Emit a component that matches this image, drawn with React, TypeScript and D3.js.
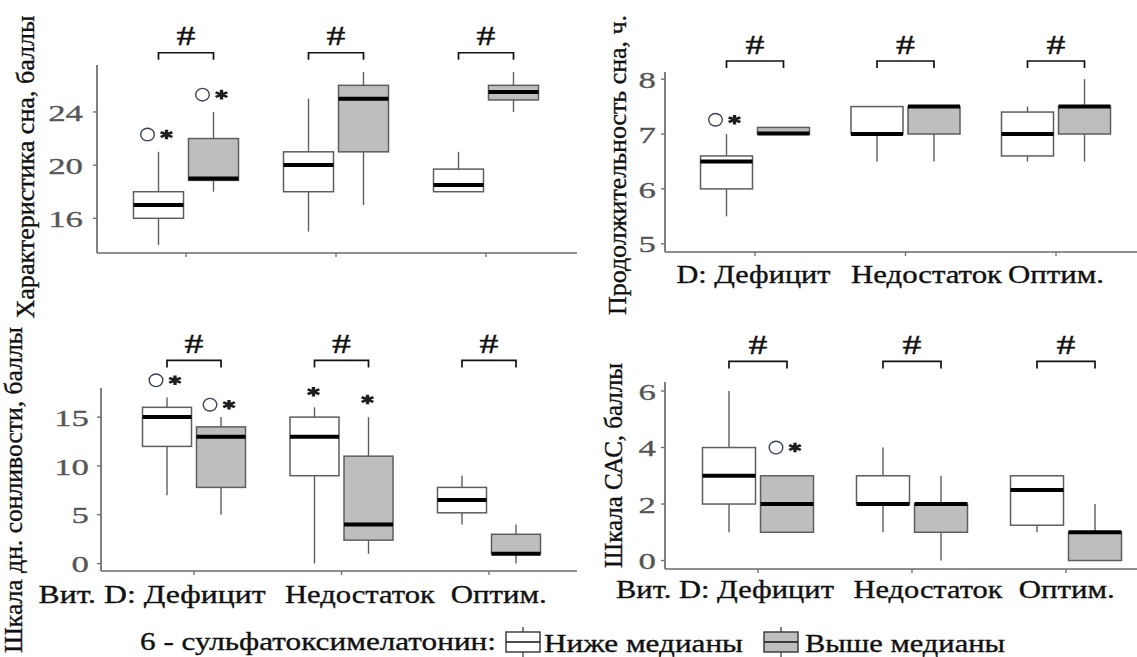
import React from "react";
import * as d3 from "d3";

// ---------- DATA ----------
const categoryKeys = ["Дефицит", "Недостаток", "Оптим."];
const legendTitle = "6 - сульфатоксимелатонин:";
const groupLabels = ["Ниже медианы", "Выше медианы"];

// box stats: [whisker low, Q1, median, Q3, whisker high]
const sleepQualityLow = [[14, 16, 17, 18, 21], [15, 18, 20, 21, 25], [18, 18, 18.5, 19.7, 21]];
const sleepQualityHigh = [[18, 18.85, 19, 22, 24], [17, 21, 25, 26, 27], [24, 24.9, 25.5, 26, 27]];
const sleepDurationLow = [[5.5, 6, 6.5, 6.6, 7], [6.5, 7, 7, 7.5, 7.5], [6.5, 6.6, 7, 7.4, 7.5]];
const sleepDurationHigh = [[7, 7, 7.01, 7.12, 7.12], [6.5, 7, 7.5, 7.5, 7.5], [6.5, 7, 7.5, 7.5, 8]];
const drowsinessLow = [[7, 12, 15, 16, 17], [0, 9, 13, 15, 16], [4, 5.2, 6.5, 7.8, 9]];
const drowsinessHigh = [[5, 7.8, 13, 14, 15], [1, 2.4, 4, 11, 15], [0, 1, 1, 3, 4]];
const sasLow = [[1, 2, 3, 4, 6], [1, 2, 2, 3, 4], [1, 1.25, 2.5, 3, 3]];
const sasHigh = [[1, 1, 2, 3, 3], [0, 1, 2, 2, 3], [0, 0, 1, 1, 2]];

// annotations: [category index, group index, marker, value]
const sleepQualityMarks = [[0, 0, "○*", 22.3], [0, 1, "○*", 25.3]];
const sleepDurationMarks = [[0, 0, "○*", 7.26]];
const drowsinessMarks = [[0, 0, "○*", 18.77], [0, 1, "○*", 16.27], [1, 0, "*", 17.6], [1, 1, "*", 16.8]];
const sasMarks = [[0, 1, "○*", 4.0]];

const sleepQualityTicks = [16, 20, 24];
const sleepDurationTicks = [5, 6, 7, 8];
const drowsinessTicks = [0, 5, 10, 15];
const sasTicks = [0, 2, 4, 6];

const topRightLabels = ["D: Дефицит", "Недостаток", "Оптим."];
const bottomLabels = ["Вит. D: Дефицит", "Недостаток", "Оптим."];

const sigMark = "#";

// ---------- STYLE / LAYOUT ----------
const FONT = "'Liberation Serif', 'Times New Roman', Times, serif";
const GRAY_FILL = "#bebebe";
const LINE = "#6a6a6a";
const BOX_LINE = "#5e5e5e";
const INK = "#111";

type Cfg = {
  title: string;
  low: number[][];
  high: number[][];
  marks: any[];
  ticks: number[];
  domain: [number, number];
  labels: string[] | null;
  bracketY: number;
  left: number; right: number; top: number; bottom: number;
  x0: number; step: number; boxW: number;
  labelDx: number[]; labelW: number[]; labelBase: number;
  tickGap: number;
  titleX: number; titleCY: number; titleLen: number;
};

const panels: Cfg[] = [
  {
    title: "Характеристика сна, баллы",
    low: sleepQualityLow, high: sleepQualityHigh, marks: sleepQualityMarks,
    ticks: sleepQualityTicks, domain: [13.39, 27.53], labels: null, bracketY: 28.45,
    left: 97, right: 577, top: 65, bottom: 253,
    x0: 186, step: 150, boxW: 50,
    labelDx: [0, 0, 0], labelW: [0, 0, 0], labelBase: 0,
    tickGap: 14, titleX: 34, titleCY: 167, titleLen: 303,
  },
  {
    title: "Продолжительность сна, ч.",
    low: sleepDurationLow, high: sleepDurationHigh, marks: sleepDurationMarks,
    ticks: sleepDurationTicks, domain: [4.85, 8.13], labels: topRightLabels, bracketY: 8.33,
    left: 665, right: 1137, top: 72, bottom: 252,
    x0: 755, step: 150.5, boxW: 52,
    labelDx: [-1.5, 21, 0], labelW: [154, 151, 96], labelBase: 283,
    tickGap: 9, titleX: 626, titleCY: 165, titleLen: 300,
  },
  {
    title: "Шкала дн. сонливости, баллы",
    low: drowsinessLow, high: drowsinessHigh, marks: drowsinessMarks,
    ticks: drowsinessTicks, domain: [-0.76, 17.98], labels: bottomLabels, bracketY: 20.8,
    left: 101, right: 577, top: 388, bottom: 571,
    x0: 194, step: 147.5, boxW: 49,
    labelDx: [-42, 18.4, 9.7], labelW: [227, 150, 96], labelBase: 603,
    tickGap: 12, titleX: 21.5, titleCY: 490, titleLen: 326,
  },
  {
    title: "Шкала САС, баллы",
    low: sasLow, high: sasHigh, marks: sasMarks,
    ticks: sasTicks, domain: [-0.3, 6.32], labels: bottomLabels, bracketY: 7.05,
    left: 665, right: 1137, top: 382, bottom: 569,
    x0: 758, step: 154, boxW: 53,
    labelDx: [-33, 16, 0.7], labelW: [218, 149, 96], labelBase: 598,
    tickGap: 9, titleX: 622, titleCY: 465.5, titleLen: 205,
  },
];

function asteriskPath(r: number) {
  const parts: string[] = [];
  for (let k = 0; k < 3; k++) {
    const a = Math.PI / 2 + (k * Math.PI) / 3;
    const dx = r * Math.cos(a), dy = r * Math.sin(a);
    parts.push(`M${-dx},${-dy}L${dx},${dy}`);
  }
  return parts.join("");
}

function Marker({ x, y, kind }: { x: number; y: number; kind: string }) {
  const withCircle = kind.includes("○");
  const starX = withCircle ? x + 9 : x;
  return (
    <g>
      {withCircle && (
        <ellipse cx={x - 10} cy={y} rx={6.8} ry={6.3} fill="none" stroke="#3a4357" strokeWidth={1.4} />
      )}
      <path
        d={asteriskPath(4.8)}
        transform={`translate(${starX},${y}) scale(1.4,1)`}
        stroke="#1e1e1e"
        strokeWidth={2.4}
        fill="none"
      />
    </g>
  );
}

function Panel({ cfg }: { cfg: Cfg }) {
  const y = d3.scaleLinear().domain(cfg.domain).range([cfg.bottom, cfg.top]);
  const x = d3.scaleLinear().domain([0, 2]).range([cfg.x0, cfg.x0 + 2 * cfg.step]);
  const off = cfg.boxW / 2 + 2.5;
  const series = [cfg.low, cfg.high];
  const fills = ["#ffffff", GRAY_FILL];
  const boxX = (c: number, g: number) => x(c) + (g === 0 ? -off : off);

  return (
    <g>
      {/* axes */}
      <line x1={cfg.left} x2={cfg.right} y1={cfg.bottom} y2={cfg.bottom} stroke={LINE} strokeWidth={1.7} />
      <line x1={cfg.left} x2={cfg.left} y1={cfg.top} y2={cfg.bottom} stroke={LINE} strokeWidth={1.7} />
      {cfg.ticks.map((t) => (
        <g key={t}>
          <line x1={cfg.left - 4} x2={cfg.left} y1={y(t)} y2={y(t)} stroke={LINE} strokeWidth={1.3} />
          <text
            transform={`translate(${cfg.left - cfg.tickGap},${y(t)}) scale(1.45,1)`}
            dy="0.36em"
            textAnchor="end"
            fontFamily={FONT}
            fontSize={24}
            fill="#555"
            stroke="#555"
            strokeWidth={0.3}
          >
            {t}
          </text>
        </g>
      ))}
      {categoryKeys.map((k, i) => (
        <line key={k} x1={x(i)} x2={x(i)} y1={cfg.bottom} y2={cfg.bottom + 4} stroke={LINE} strokeWidth={1.3} />
      ))}
      {cfg.labels &&
        cfg.labels.map((lab, i) => (
          <text
            key={lab}
            x={x(i) + cfg.labelDx[i]}
            y={cfg.labelBase}
            textAnchor="middle"
            fontFamily={FONT}
            fontSize={25}
            fill={INK}
            stroke={INK}
            strokeWidth={0.35}
            textLength={cfg.labelW[i]}
            lengthAdjust="spacingAndGlyphs"
          >
            {lab}
          </text>
        ))}
      {/* y title */}
      <text
        transform={`translate(${cfg.titleX},${cfg.titleCY}) rotate(-90)`}
        textAnchor="middle"
        fontFamily={FONT}
        fontSize={25}
        fill={INK}
        stroke={INK}
        strokeWidth={0.35}
        textLength={cfg.titleLen}
        lengthAdjust="spacingAndGlyphs"
      >
        {cfg.title}
      </text>
      {/* boxes */}
      {series.map((ser, g) =>
        ser.map((s, c) => {
          const cx = boxX(c, g);
          const [lo, q1, md, q3, hi] = s;
          const w = cfg.boxW;
          return (
            <g key={`${g}-${c}`}>
              <line x1={cx} x2={cx} y1={y(hi)} y2={y(q3)} stroke={BOX_LINE} strokeWidth={1.4} />
              <line x1={cx} x2={cx} y1={y(q1)} y2={y(lo)} stroke={BOX_LINE} strokeWidth={1.4} />
              <rect
                x={cx - w / 2}
                y={y(q3)}
                width={w}
                height={Math.max(0.5, y(q1) - y(q3))}
                fill={fills[g]}
                stroke={BOX_LINE}
                strokeWidth={1.5}
              />
              <line x1={cx - w / 2} x2={cx + w / 2} y1={y(md)} y2={y(md)} stroke="#000" strokeWidth={4} />
            </g>
          );
        })
      )}
      {/* significance brackets */}
      {categoryKeys.map((k, i) => {
        const a = boxX(i, 0), b = boxX(i, 1);
        const by = y(cfg.bracketY);
        return (
          <g key={k}>
            <path d={`M${a},${by + 7}V${by}H${b}V${by + 7}`} fill="none" stroke={INK} strokeWidth={1.7} />
            <text
              transform={`translate(${(a + b) / 2},${by - 7.5}) scale(1.35,1)`}
              textAnchor="middle"
              fontFamily={FONT}
              fontSize={28}
              fill={INK}
              stroke={INK}
              strokeWidth={0.4}
            >
              {sigMark}
            </text>
          </g>
        );
      })}
      {/* annotations */}
      {cfg.marks.map((m, i) => (
        <Marker key={i} x={boxX(m[0], m[1]) - 1} y={y(m[3])} kind={m[2]} />
      ))}
    </g>
  );
}

function LegendKey({ x, fill }: { x: number; fill: string }) {
  const w = 34, top = 632, h = 20;
  return (
    <g>
      <line x1={x + w / 2} x2={x + w / 2} y1={top - 5} y2={top + h + 5} stroke="#333" strokeWidth={1.2} />
      <rect x={x} y={top} width={w} height={h} fill={fill} stroke="#333" strokeWidth={1.4} />
      <line x1={x} x2={x + w} y1={top + h / 2} y2={top + h / 2} stroke={INK} strokeWidth={1.6} />
    </g>
  );
}

export default function App() {
  return (
    <svg
      width={1137}
      height={657}
      style={{ position: "absolute", left: 0, top: 0, background: "#fff" }}
    >
      {panels.map((p, i) => (
        <Panel key={i} cfg={p} />
      ))}
      <text x={140} y={650} fontFamily={FONT} fontSize={25} fill={INK} stroke={INK} strokeWidth={0.35} textLength={356} lengthAdjust="spacingAndGlyphs">
        {legendTitle}
      </text>
      <LegendKey x={506} fill="#ffffff" />
      <text x={544} y={652} fontFamily={FONT} fontSize={25} fill={INK} stroke={INK} strokeWidth={0.35} textLength={199} lengthAdjust="spacingAndGlyphs">
        {groupLabels[0]}
      </text>
      <LegendKey x={764} fill={GRAY_FILL} />
      <text x={805} y={652} fontFamily={FONT} fontSize={25} fill={INK} stroke={INK} strokeWidth={0.35} textLength={200} lengthAdjust="spacingAndGlyphs">
        {groupLabels[1]}
      </text>
    </svg>
  );
}
